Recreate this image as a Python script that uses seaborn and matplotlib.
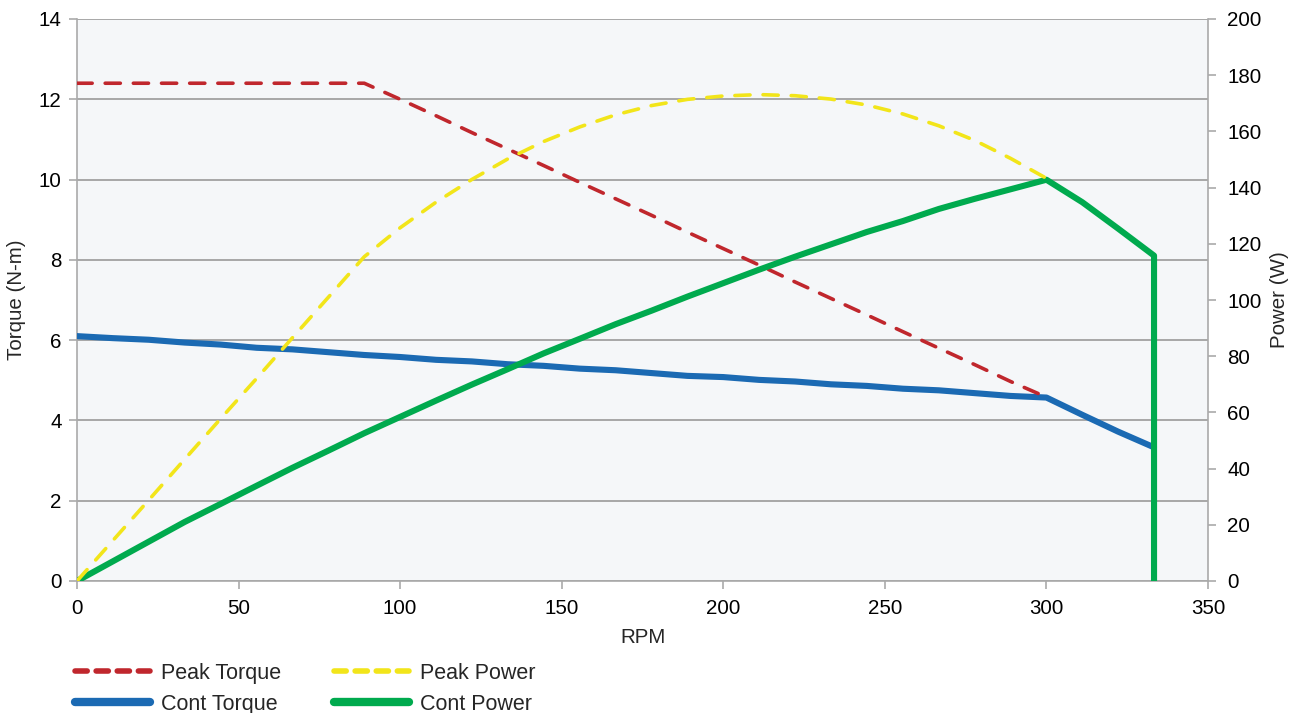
import matplotlib
matplotlib.use("Agg")
import matplotlib.pyplot as plt
import seaborn as sns
import pandas as pd
from matplotlib.lines import Line2D

# ---- data ----
rpm = [0.0, 11.1, 22.2, 33.3, 44.4, 55.6, 66.7, 77.8, 88.9, 100.0,
       111.1, 122.2, 133.3, 144.4, 155.6, 166.7, 177.8, 188.9, 200.0, 211.1,
       222.2, 233.3, 244.4, 255.6, 266.7, 277.8, 288.9, 300.0, 311.1, 322.2, 333.3]

peak_torque = [12.4, 12.4, 12.4, 12.4, 12.4, 12.4, 12.4, 12.4, 12.4, 12.0,
               11.59, 11.17, 10.76, 10.35, 9.93, 9.52, 9.11, 8.69, 8.28, 7.87,
               7.45, 7.04, 6.63, 6.21, 5.80, 5.39, 4.97, 4.58]
peak_power = [0.0, 14.4, 28.8, 43.3, 57.7, 72.1, 86.6, 101.0, 115.4, 125.7,
              134.8, 142.9, 150.2, 156.4, 161.6, 165.9, 169.2, 171.4, 172.6, 173.1,
              172.7, 171.5, 169.4, 166.2, 162.0, 156.8, 150.4, 143.3]
cont_torque = [6.10, 6.05, 6.01, 5.94, 5.89, 5.81, 5.77, 5.70, 5.63, 5.58,
               5.51, 5.47, 5.40, 5.36, 5.29, 5.25, 5.18, 5.11, 5.08, 5.01,
               4.97, 4.90, 4.86, 4.79, 4.75, 4.68, 4.61, 4.57, 4.14, 3.72, 3.33]
cont_power_rpm = rpm + [333.3]
cont_power = [0.0, 7.0, 14.0, 21.0, 27.4, 33.9, 40.3, 46.4, 52.6, 58.4,
              64.2, 69.9, 75.4, 81.0, 86.2, 91.4, 96.2, 101.2, 106.0, 110.8,
              115.4, 119.8, 124.2, 128.1, 132.4, 136.0, 139.4, 142.8, 134.8, 125.4, 115.8, 0.0]

x_ticks = [0, 50, 100, 150, 200, 250, 300, 350]
torque_ticks = [0, 2, 4, 6, 8, 10, 12, 14]
power_ticks = [0, 20, 40, 60, 80, 100, 120, 140, 160, 180, 200]

# ---- style ----
sns.set_theme(style="white")
plt.rcParams['font.family'] = ['Liberation Sans', 'DejaVu Sans']

C_RED = "#C0272D"
C_YEL = "#F2E51A"
C_BLUE = "#1B6AB3"
C_GREEN = "#00AA4E"
GRID = "#9A9A9A"
FS = 14.8
FS_LEG = 15.5

fig = plt.figure(figsize=(12.92, 7.13), dpi=100)
ax = fig.add_axes([77/1292, 1 - 581/713, 1131/1292, 562/713])
ax.set_facecolor("#F5F7F9")
ax2 = ax.twinx()

n = len(peak_torque)
df_pt = pd.DataFrame({"rpm": rpm[:n], "v": peak_torque})
df_pp = pd.DataFrame({"rpm": rpm[:n], "v": peak_power})
df_ct = pd.DataFrame({"rpm": rpm, "v": cont_torque})
df_cp = pd.DataFrame({"rpm": cont_power_rpm, "v": cont_power})

sns.lineplot(data=df_ct, x="rpm", y="v", ax=ax, color=C_BLUE, lw=4.4,
             estimator=None, sort=False, solid_capstyle="round", solid_joinstyle="round", zorder=3)
sns.lineplot(data=df_pt, x="rpm", y="v", ax=ax, color=C_RED, lw=2.6,
             estimator=None, sort=False, zorder=4)
ax.lines[-1].set_dashes((4.2, 3.6))
ax.lines[-1].set_dash_capstyle("round")

sns.lineplot(data=df_cp, x="rpm", y="v", ax=ax2, color=C_GREEN, lw=4.4,
             estimator=None, sort=False, solid_capstyle="round", solid_joinstyle="round", zorder=3)
sns.lineplot(data=df_pp, x="rpm", y="v", ax=ax2, color=C_YEL, lw=2.6,
             estimator=None, sort=False, zorder=4)
ax2.lines[-1].set_dashes((4.2, 3.6))
ax2.lines[-1].set_dash_capstyle("round")

# axes limits / ticks
ax.set_xlim(0, 350)
ax.set_ylim(0, 14)
ax2.set_ylim(0, 200)
ax.set_xticks(x_ticks)
ax.set_yticks(torque_ticks)
ax2.set_yticks(power_ticks)
ax.grid(axis="y", color=GRID, lw=1.2)
ax.grid(axis="x", visible=False)
ax2.grid(False)

for a in (ax, ax2):
    for s in a.spines.values():
        s.set_visible(False)
for a, side in ((ax, "left"), (ax, "bottom"), (ax2, "right")):
    a.spines[side].set_visible(True)
    a.spines[side].set_color("#AAAAAA")
    a.spines[side].set_linewidth(1.2)

ax.tick_params(axis="both", direction="out", length=6, width=1.2, color="#AAAAAA",
               labelsize=FS, labelcolor="black", pad=5, left=True, bottom=True)
ax.tick_params(axis="x", pad=7)
ax2.tick_params(axis="y", direction="out", length=6, width=1.2, color="#AAAAAA",
                labelsize=FS, labelcolor="black", pad=8, right=True)

ax.set_xlabel("RPM", fontsize=FS, labelpad=7)
ax.set_ylabel("Torque (N-m)", fontsize=FS, labelpad=9)
ax2.set_ylabel("Power (W)", fontsize=FS, labelpad=6)

handles = [
    Line2D([], [], color=C_RED, lw=4.0, dashes=(2.2, 1.6), dash_capstyle="round"),
    Line2D([], [], color=C_BLUE, lw=6.0, solid_capstyle="round"),
    Line2D([], [], color=C_YEL, lw=4.0, dashes=(2.2, 1.6), dash_capstyle="round"),
    Line2D([], [], color=C_GREEN, lw=6.0, solid_capstyle="round"),
]
labels = ["Peak Torque", "Cont Torque", "Peak Power", "Cont Power"]
fig.legend(handles, labels, loc="upper left", bbox_to_anchor=(0.058, 1 - 663/713),
           ncol=2, frameon=False, fontsize=FS_LEG, handlelength=3.5, handletextpad=0.5,
           columnspacing=2.45, labelspacing=0.45, borderpad=0, borderaxespad=0)

fig.savefig("out.png", dpi=100)
